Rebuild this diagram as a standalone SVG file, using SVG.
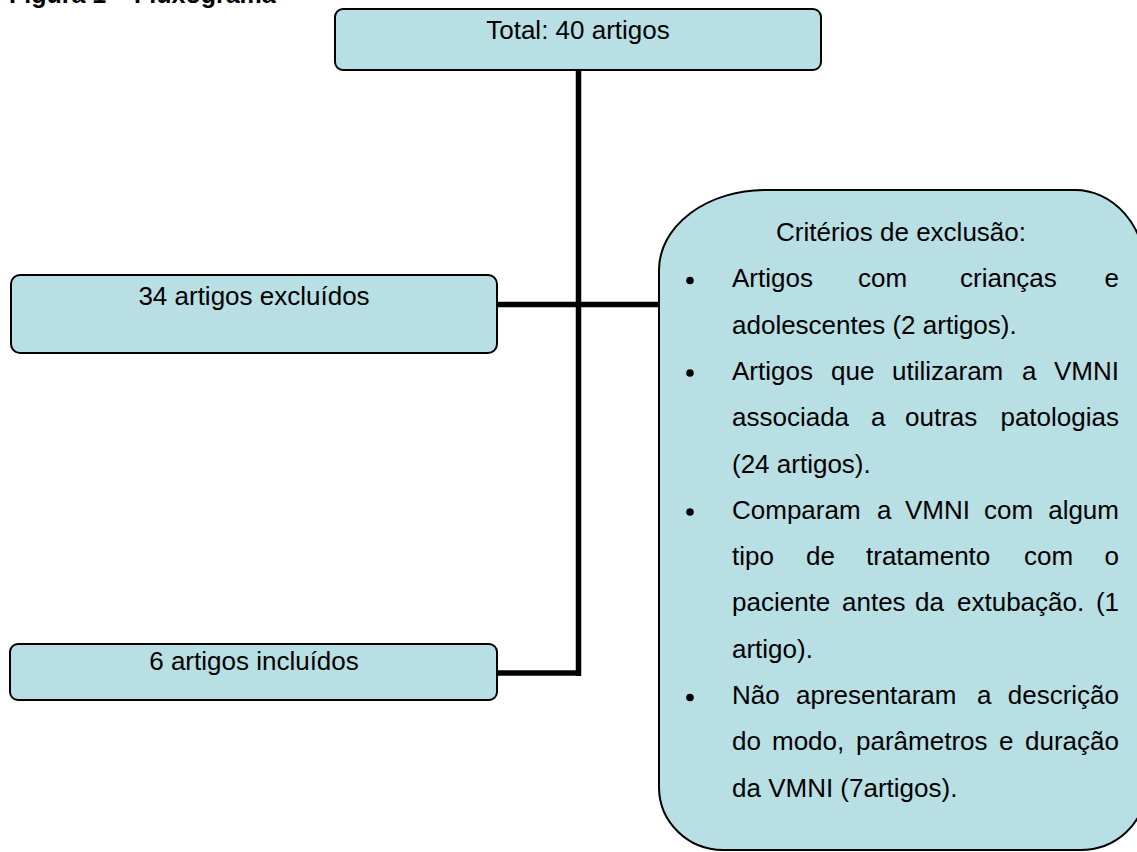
<svg xmlns="http://www.w3.org/2000/svg" width="1137" height="852" viewBox="0 0 1137 852">
<style>
.box{fill:#b8dfe3;stroke:#000;stroke-width:2}
.t{font-family:"Liberation Sans",Arial,sans-serif;font-size:26px;fill:#000}
.c{text-anchor:middle}
.e{text-anchor:end}
.conn{fill:none;stroke:#000;stroke-width:5.5}
</style>
<rect width="1137" height="852" fill="#fff"/>
<text class="t" x="9" y="3" style="font-weight:bold;font-size:25px">Figura 1 – Fluxograma</text>
<g id="connectors">
<line class="conn" x1="578.5" y1="70" x2="578.5" y2="676"/>
<line class="conn" x1="497" y1="304.5" x2="660" y2="304.5"/>
<line class="conn" x1="497" y1="673" x2="581" y2="673"/>
</g>
<g id="total">
<rect class="box" x="335" y="9" width="486" height="61" rx="8"/>
<text class="t c" x="578" y="39">Total: 40 artigos</text>
</g>
<g id="excluidos">
<rect class="box" x="11" y="275" width="486" height="78" rx="9"/>
<text class="t c" x="254" y="305">34 artigos excluídos</text>
</g>
<g id="incluidos">
<rect class="box" x="10" y="644" width="487" height="56" rx="8"/>
<text class="t c" x="254" y="670">6 artigos incluídos</text>
</g>
<g id="criterios">
<path class="box" d="M659 270 A106 80 0 0 1 765 190 H1075 A70 80 0 0 1 1145 270 V790 A65 60 0 0 1 1080 850 H723 A64 63 0 0 1 659 787 Z"/>
<text class="t c" x="901" y="241">Critérios de exclusão:</text>
<circle cx="690" cy="280.5" r="3.8"/>
<circle cx="690" cy="373" r="3.8"/>
<circle cx="690" cy="512" r="3.8"/>
<circle cx="690" cy="697.5" r="3.8"/>
<text class="t" y="287.3"><tspan x="732">Artigos</tspan><tspan x="858">com</tspan><tspan x="960">crianças</tspan><tspan x="1119" class="e">e</tspan></text>
<text class="t" x="732" y="333.6">adolescentes (2 artigos).</text>
<text class="t" y="379.9"><tspan x="732">Artigos</tspan><tspan x="831">que</tspan><tspan x="892">utilizaram</tspan><tspan x="1022">a</tspan><tspan x="1119" class="e">VMNI</tspan></text>
<text class="t" y="426.2"><tspan x="732">associada</tspan><tspan x="871">a</tspan><tspan x="905">outras</tspan><tspan x="1119" class="e">patologias</tspan></text>
<text class="t" x="732" y="472.5">(24 artigos).</text>
<text class="t" y="518.8"><tspan x="732">Comparam</tspan><tspan x="877">a</tspan><tspan x="905">VMNI</tspan><tspan x="984">com</tspan><tspan x="1119" class="e">algum</tspan></text>
<text class="t" y="565.1"><tspan x="732">tipo</tspan><tspan x="806">de</tspan><tspan x="866">tratamento</tspan><tspan x="1024">com</tspan><tspan x="1119" class="e">o</tspan></text>
<text class="t" y="611.4"><tspan x="732">paciente</tspan><tspan x="842">antes</tspan><tspan x="915">da</tspan><tspan x="957">extubação.</tspan><tspan x="1119" class="e">(1</tspan></text>
<text class="t" x="732" y="657.7">artigo).</text>
<text class="t" y="704"><tspan x="732">Não</tspan><tspan x="796">apresentaram</tspan><tspan x="977">a</tspan><tspan x="1119" class="e">descrição</tspan></text>
<text class="t" y="750.3"><tspan x="732">do</tspan><tspan x="772">modo,</tspan><tspan x="856">parâmetros</tspan><tspan x="999">e</tspan><tspan x="1119" class="e">duração</tspan></text>
<text class="t" x="732" y="796.6">da VMNI (7artigos).</text>
</g>
</svg>
